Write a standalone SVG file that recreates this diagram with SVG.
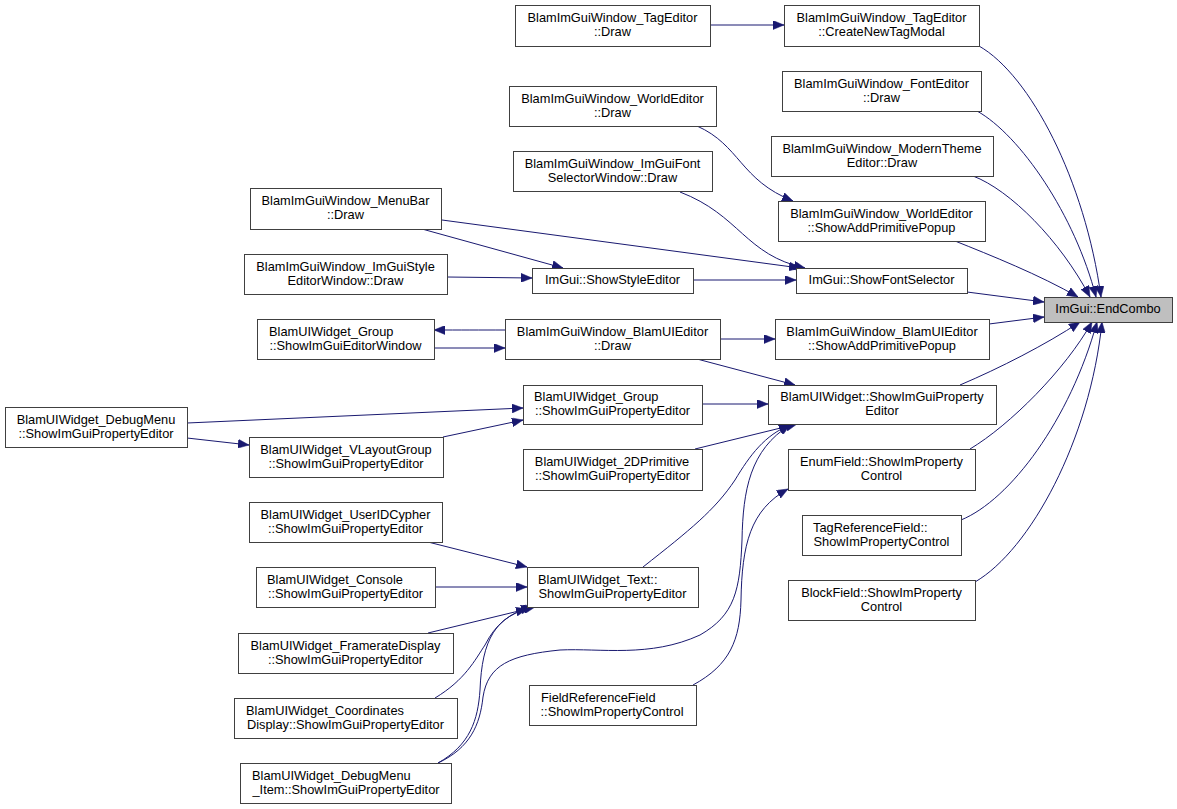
<svg xmlns="http://www.w3.org/2000/svg" width="1177" height="809" viewBox="0 0 1177 809">
<style>
.n rect{fill:#fff;stroke:#404040;stroke-width:1}
.n.root rect{fill:#bfbfbf}
.n text{font-family:"Liberation Sans",Arial,sans-serif;font-size:12.8px;fill:#000;transform:translate(0px,-1px)}
.m{text-anchor:middle}
.e path{fill:none;stroke:#191970;stroke-width:1;marker-end:url(#ah)}
</style>
<defs>
<marker id="ah" viewBox="0 0 11 9" refX="11" refY="4.5" markerWidth="11" markerHeight="9" markerUnits="userSpaceOnUse" orient="auto">
<path d="M0,0 L11,4.5 L0,9 Z" fill="#191970" stroke="#191970" stroke-width="0.5"/>
</marker>
</defs>
<rect width="1177" height="809" fill="#fff"/>
<g id="edges" class="e">
<path d="M710,25 L784,25"/>
<path d="M979,46 C1030,75 1085,180 1101,297"/>
<path d="M977,111 C1020,135 1075,215 1096,297"/>
<path d="M973,176 C1010,190 1060,240 1090,297"/>
<path d="M955,241 C990,255 1040,275 1078,297"/>
<path d="M967,292 L1044,302"/>
<path d="M989,324 L1044,317"/>
<path d="M960,385 C1000,368 1045,345 1080,322"/>
<path d="M970,449 C1010,425 1065,370 1092,322"/>
<path d="M961,520 C1010,500 1070,420 1097,322"/>
<path d="M975,582 C1030,550 1090,440 1102,322"/>
<path d="M697,126 C740,145 740,180 793,201"/>
<path d="M680,192 C740,215 745,255 805,268"/>
<path d="M442,220 L800,268"/>
<path d="M422,229 L563,268"/>
<path d="M447,277 L532,278"/>
<path d="M693,280 L796,280"/>
<path d="M505,330 C480,330 460,330 434,330"/>
<path d="M434,348 L505,348"/>
<path d="M720,339 L775,339"/>
<path d="M697,359 L795,385"/>
<path d="M702,404 L768,404"/>
<path d="M187,423 L523,408"/>
<path d="M187,438 L249,445"/>
<path d="M443,437 L523,420"/>
<path d="M695,449 L797,424"/>
<path d="M643,567 C690,530 715,510 735,480 C750,455 765,435 790,425"/>
<path d="M438,763 C470,748 480,725 483,697 C488,665 510,655 560,650 C600,648 650,658 700,635 C735,615 740,590 742,540 C743,490 750,450 790,425"/>
<path d="M693,685 C730,665 740,640 741,600 C742,545 750,510 788,489"/>
<path d="M428,542 L527,567"/>
<path d="M435,587 L527,587"/>
<path d="M428,633 L527,609"/>
<path d="M435,698 C465,680 475,660 485,645 C495,625 510,612 532,607"/>
<path d="M438,763 C470,745 478,720 480,690 C482,640 495,615 535,607"/>
</g>
<g id="n1" class="n"><rect x="515.5" y="5.5" width="195" height="41"/><text x="612.5" y="23" class="m">BlamImGuiWindow_TagEditor</text><text x="612.5" y="37" class="m">::Draw</text></g>
<g id="n2" class="n"><rect x="784.5" y="5.5" width="195" height="41"/><text x="881.5" y="23" class="m">BlamImGuiWindow_TagEditor</text><text x="881.5" y="37" class="m">::CreateNewTagModal</text></g>
<g id="n3" class="n"><rect x="782.5" y="71.5" width="199" height="40"/><text x="881.5" y="89" class="m">BlamImGuiWindow_FontEditor</text><text x="881.5" y="103" class="m">::Draw</text></g>
<g id="n4" class="n"><rect x="509.5" y="86.5" width="207" height="40"/><text x="612.5" y="104" class="m">BlamImGuiWindow_WorldEditor</text><text x="612.5" y="118" class="m">::Draw</text></g>
<g id="n5" class="n"><rect x="771.5" y="136.5" width="222" height="40"/><text x="882" y="154" class="m">BlamImGuiWindow_ModernTheme</text><text x="882" y="168" class="m">Editor::Draw</text></g>
<g id="n6" class="n"><rect x="513.5" y="151.5" width="199" height="40"/><text x="612.5" y="169" class="m">BlamImGuiWindow_ImGuiFont</text><text x="612.5" y="183" class="m">SelectorWindow::Draw</text></g>
<g id="n7" class="n"><rect x="778.5" y="201.5" width="207" height="40"/><text x="881.5" y="219" class="m">BlamImGuiWindow_WorldEditor</text><text x="881.5" y="233" class="m">::ShowAddPrimitivePopup</text></g>
<g id="n8" class="n"><rect x="250.5" y="188.5" width="191" height="41"/><text x="345.5" y="206" class="m">BlamImGuiWindow_MenuBar</text><text x="345.5" y="220" class="m">::Draw</text></g>
<g id="n9" class="n"><rect x="244.5" y="254.5" width="203" height="40"/><text x="345.5" y="272" class="m">BlamImGuiWindow_ImGuiStyle</text><text x="345.5" y="286" class="m">EditorWindow::Draw</text></g>
<g id="n10" class="n"><rect x="532.5" y="268.5" width="161" height="25"/><text x="612.5" y="285" class="m">ImGui::ShowStyleEditor</text></g>
<g id="n11" class="n"><rect x="796.5" y="268.5" width="171" height="25"/><text x="881.5" y="285" class="m">ImGui::ShowFontSelector</text></g>
<g id="n12" class="n root"><rect x="1044.5" y="297.5" width="128" height="25"/><text x="1108" y="314" class="m">ImGui::EndCombo</text></g>
<g id="n13" class="n"><rect x="257.5" y="319.5" width="177" height="40"/><text x="269" y="337">BlamUIWidget_Group</text><text x="345.5" y="351" class="m">::ShowImGuiEditorWindow</text></g>
<g id="n14" class="n"><rect x="505.5" y="319.5" width="215" height="40"/><text x="612.5" y="337" class="m">BlamImGuiWindow_BlamUIEditor</text><text x="612.5" y="351" class="m">::Draw</text></g>
<g id="n15" class="n"><rect x="775.5" y="319.5" width="214" height="40"/><text x="882" y="337" class="m">BlamImGuiWindow_BlamUIEditor</text><text x="882" y="351" class="m">::ShowAddPrimitivePopup</text></g>
<g id="n16" class="n"><rect x="768.5" y="385.5" width="228" height="39"/><text x="882" y="402" class="m">BlamUIWidget::ShowImGuiProperty</text><text x="882" y="416" class="m">Editor</text></g>
<g id="n17" class="n"><rect x="523.5" y="385.5" width="179" height="39"/><text x="534" y="402">BlamUIWidget_Group</text><text x="612.5" y="416" class="m">::ShowImGuiPropertyEditor</text></g>
<g id="n18" class="n"><rect x="5.5" y="407.5" width="182" height="40"/><text x="96" y="425" class="m">BlamUIWidget_DebugMenu</text><text x="96" y="439" class="m">::ShowImGuiPropertyEditor</text></g>
<g id="n19" class="n"><rect x="249.5" y="437.5" width="194" height="40"/><text x="346" y="455" class="m">BlamUIWidget_VLayoutGroup</text><text x="346" y="469" class="m">::ShowImGuiPropertyEditor</text></g>
<g id="n20" class="n"><rect x="523.5" y="449.5" width="179" height="41"/><text x="612" y="467" class="m">BlamUIWidget_2DPrimitive</text><text x="612.5" y="481" class="m">::ShowImGuiPropertyEditor</text></g>
<g id="n21" class="n"><rect x="788.5" y="449.5" width="187" height="41"/><text x="881.5" y="467" class="m">EnumField::ShowImProperty</text><text x="881.5" y="481" class="m">Control</text></g>
<g id="n22" class="n"><rect x="802.5" y="515.5" width="159" height="40"/><text x="813" y="533">TagReferenceField::</text><text x="881.5" y="547" class="m">ShowImPropertyControl</text></g>
<g id="n23" class="n"><rect x="788.5" y="580.5" width="187" height="40"/><text x="881.5" y="598" class="m">BlockField::ShowImProperty</text><text x="881.5" y="612" class="m">Control</text></g>
<g id="n24" class="n"><rect x="527.5" y="567.5" width="171" height="40"/><text x="538" y="585">BlamUIWidget_Text::</text><text x="612.5" y="599" class="m">ShowImGuiPropertyEditor</text></g>
<g id="n25" class="n"><rect x="249.5" y="502.5" width="193" height="40"/><text x="345.5" y="520" class="m">BlamUIWidget_UserIDCypher</text><text x="345.5" y="534" class="m">::ShowImGuiPropertyEditor</text></g>
<g id="n26" class="n"><rect x="256.5" y="567.5" width="179" height="40"/><text x="267" y="585">BlamUIWidget_Console</text><text x="345.5" y="599" class="m">::ShowImGuiPropertyEditor</text></g>
<g id="n27" class="n"><rect x="238.5" y="633.5" width="215" height="40"/><text x="345.5" y="651" class="m">BlamUIWidget_FramerateDisplay</text><text x="345.5" y="665" class="m">::ShowImGuiPropertyEditor</text></g>
<g id="n28" class="n"><rect x="234.5" y="698.5" width="223" height="40"/><text x="246" y="716">BlamUIWidget_Coordinates</text><text x="345.5" y="730" class="m">Display::ShowImGuiPropertyEditor</text></g>
<g id="n29" class="n"><rect x="240.5" y="763.5" width="211" height="40"/><text x="252" y="781">BlamUIWidget_DebugMenu</text><text x="346" y="795" class="m">_Item::ShowImGuiPropertyEditor</text></g>
<g id="n30" class="n"><rect x="529.5" y="685.5" width="167" height="40"/><text x="541" y="703">FieldReferenceField</text><text x="612" y="717" class="m">::ShowImPropertyControl</text></g>
</svg>
